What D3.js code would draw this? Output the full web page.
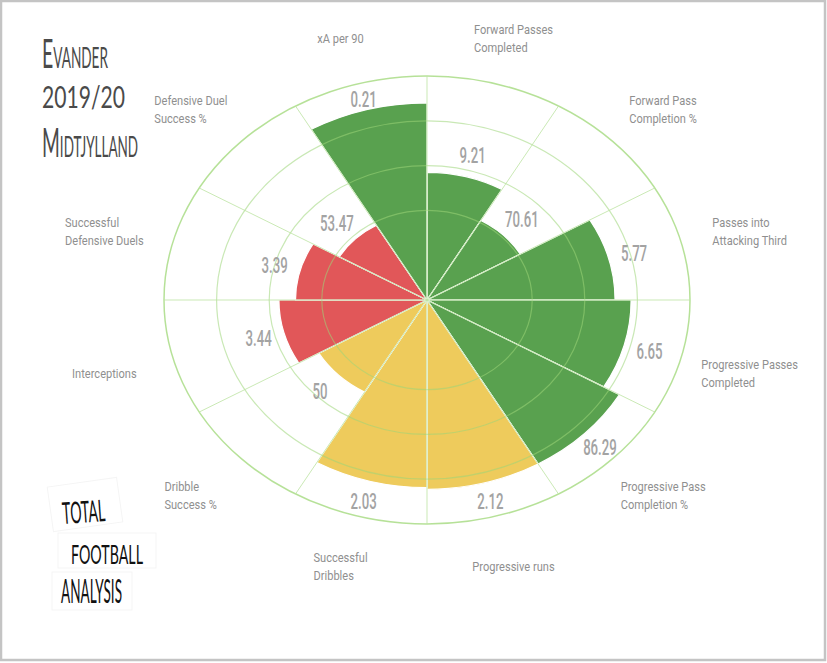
<!DOCTYPE html>
<html><head><meta charset="utf-8">
<script src="https://cdn.jsdelivr.net/npm/d3@7"></script>
<style>
html,body{margin:0;padding:0;background:#fff;}
svg{display:block;}
</style></head>
<body>
<svg id="chart" width="827" height="663"></svg>
<script>
// ---------- data ----------
const categories = [
  "Forward Passes Completed", "Forward Pass Completion %", "Passes into Attacking Third",
  "Progressive Passes Completed", "Progressive Pass Completion %", "Progressive runs",
  "Successful Dribbles", "Dribble Success %", "Interceptions",
  "Successful Defensive Duels", "Defensive Duel Success %", "xA per 90"
];
const categoryLines = [
  ["Forward Passes", "Completed"], ["Forward Pass", "Completion %"], ["Passes into", "Attacking Third"],
  ["Progressive Passes", "Completed"], ["Progressive Pass", "Completion %"], ["Progressive runs"],
  ["Successful", "Dribbles"], ["Dribble", "Success %"], ["Interceptions"],
  ["Successful", "Defensive Duels"], ["Defensive Duel", "Success %"], ["xA per 90"]
];
const valueLabels = ["9.21", "70.61", "5.77", "6.65", "86.29", "2.12", "2.03", "50", "3.44", "3.39", "53.47", "0.21"];
const percentiles = [57, 41, 71.5, 77.6, 84.5, 84.5, 83.8, 47.5, 56.3, 50, 38.5, 88];
const groups = ["attack", "attack", "attack", "attack", "attack", "dribble", "dribble", "dribble", "defence", "defence", "defence", "attack"];
const groupNames = ["attack", "dribble", "defence"];
const groupColors = ["#59a14f", "#eecb5c", "#e15759"];
const ringTicks = [40, 60, 80, 100];
const titleLines = ["Evander", "2019/20", "Midtjylland"];
const logoWords = ["TOTAL", "FOOTBALL", "ANALYSIS"];

// ---------- layout ----------
const W = 827, H = 663;
const cx = 427, cy = 300, rx = 263, ry = 224;
const svg = d3.select("#chart");

svg.append("rect").attr("x", 1).attr("y", 1).attr("width", 824).attr("height", 659)
  .attr("fill", "#fff").attr("stroke", "#c4c4c4").attr("stroke-width", 2.5);

const color = d3.scaleOrdinal().domain(groupNames).range(groupColors);
const r = d3.scaleLinear().domain([0, 100]).range([0, rx]);
const angle = d3.scaleBand().domain(categories).range([0, 2 * Math.PI]).paddingInner(0).paddingOuter(0);

const data = categories.map((c, i) => ({cat: c, lines: categoryLines[i], label: valueLabels[i], p: percentiles[i], g: groups[i]}));

const g = svg.append("g").attr("transform", `translate(${cx},${cy}) scale(1,${ry / rx})`);

// bars
const arc = d3.arc()
  .innerRadius(0)
  .outerRadius(d => r(d.p))
  .startAngle(d => angle(d.cat))
  .endAngle(d => angle(d.cat) + angle.bandwidth());

g.selectAll("path.bar").data(data).join("path")
  .attr("class", "bar")
  .attr("d", arc)
  .attr("fill", d => color(d.g))
  .attr("stroke", "#fff").attr("stroke-width", 1.2)
  .attr("vector-effect", "non-scaling-stroke");

// grid rings (on top, translucent)
g.selectAll("circle.ring").data(ringTicks).join("circle")
  .attr("class", "ring")
  .attr("r", d => r(d))
  .attr("fill", "none")
  .attr("stroke", d => d === 100 ? "#a9dc86" : "#9dd678")
  .attr("stroke-opacity", d => d === 100 ? 0.85 : 0.55)
  .attr("stroke-width", d => d === 100 ? 1.5 : 1.2)
  .attr("vector-effect", "non-scaling-stroke");

// radial lines
g.selectAll("line.spoke").data(categories).join("line")
  .attr("class", "spoke")
  .attr("x1", 0).attr("y1", 0)
  .attr("x2", d => r(100) * Math.sin(angle(d)))
  .attr("y2", d => -r(100) * Math.cos(angle(d)))
  .attr("stroke", "#bde4a2").attr("stroke-opacity", 0.8)
  .attr("stroke-width", 1)
  .attr("vector-effect", "non-scaling-stroke");

function pos(fx, fy, a) {
  return [cx + fx * rx * Math.sin(a), cy - fy * ry * Math.cos(a)];
}

// value labels
const vl = svg.append("g");
data.forEach(d => {
  const a = angle(d.cat) + angle.bandwidth() / 2;
  const frac = Math.min(d.p / 100 + 0.1, 0.93);
  const [x, y] = pos(frac, frac, a);
  vl.append("text")
    .attr("transform", `translate(${x},${y}) scale(0.6,1)`)
    .attr("text-anchor", "middle")
    .attr("dy", "0.36em")
    .attr("font-family", "Roboto, 'Open Sans', sans-serif")
    .attr("font-weight", 500)
    .attr("font-size", 22)
    .attr("fill", "#a3a3a3")
    .text(d.label);
});

// category labels (left-aligned blocks centred outside the ring)
const cl = svg.append("g");
data.forEach(d => {
  const a = angle(d.cat) + angle.bandwidth() / 2;
  const [x, y0] = pos(1.27, 1.22, a);
  const y = y0 + 3;
  const grp = cl.append("g");
  const inner = grp.append("g").attr("transform", "scale(0.9,1)");
  const t = inner.append("text")
    .attr("font-family", "Roboto, 'Open Sans', sans-serif")
    .attr("font-size", 12.3)
    .attr("fill", "#8f8f8f");
  d.lines.forEach((ln, k) => {
    t.append("tspan").attr("x", 0).attr("y", k * 18).text(ln);
  });
  const bb = t.node().getBBox();
  const w = bb.width * 0.9;
  const h = (d.lines.length - 1) * 18;
  grp.attr("transform", `translate(${x - w / 2},${y - h / 2 + 4})`);
});

// title (condensed by horizontal scaling to the reference widths)
const titleSizes = [40, 31, 40];
const titleWidths = [66, 83, 96];
const titleBase = [68, 108, 157];
titleLines.forEach((s, i) => {
  const tg = svg.append("g");
  const t = tg.append("text")
    .attr("x", 0).attr("y", 0)
    .attr("font-family", "Lato, 'Open Sans', sans-serif")
    .attr("font-weight", 400)
    .attr("font-size", titleSizes[i])
    .attr("font-variant", "small-caps")
    .attr("fill", "#4a4a4a")
    .text(s);
  const nat = t.node().getComputedTextLength();
  tg.attr("transform", `translate(42,${titleBase[i]}) scale(${titleWidths[i] / nat},1)`);
});

// logo
const logo = svg.append("g");
const logoX = [63, 71, 61], logoY = [524, 564, 603], logoW = [43, 72, 61], logoS = [30, 27, 32], logoRot = [-4, 0, 0];
const boxes = [[50, 482, 70, 45, -8], [58, 533, 98, 35, 0], [52, 572, 80, 38, 0]];
boxes.forEach(b => {
  logo.append("rect").attr("x", b[0]).attr("y", b[1]).attr("width", b[2]).attr("height", b[3])
    .attr("fill", "#fff").attr("stroke", "#f5f5f5").attr("stroke-width", 1)
    .attr("transform", `rotate(${b[4]},${b[0] + b[2] / 2},${b[1] + b[3] / 2})`);
});
logoWords.forEach((s, i) => {
  const lg = logo.append("g");
  const t = lg.append("text")
    .attr("x", 0).attr("y", 0)
    .attr("font-family", "Lato, 'DejaVu Sans', sans-serif")
    .attr("font-weight", 400)
    .attr("font-size", logoS[i])
    .attr("fill", "#111")
    .text(s);
  const nat = t.node().getComputedTextLength();
  lg.attr("transform", `translate(${logoX[i]},${logoY[i]}) rotate(${logoRot[i]}) scale(${logoW[i] / nat},1)`);
});
</script>
</body></html>
